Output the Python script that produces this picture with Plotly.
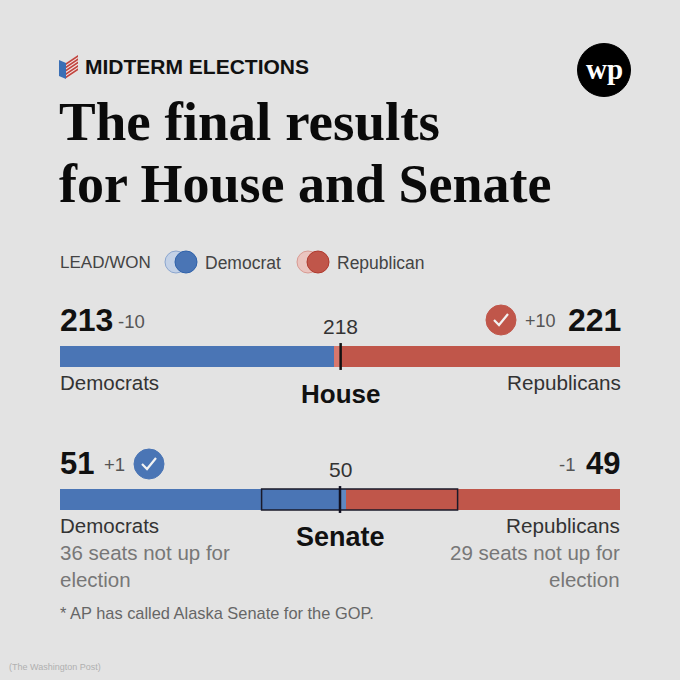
import plotly.graph_objects as go

# seats
house_total = 435
house_dem = 213
house_rep_won = 217
house_rep_lead = 5
house_rep = 221
house_majority = 218
house_dem_change = "-10"
house_rep_change = "+10"

senate_total = 100
senate_dem_won = 50
senate_dem_lead = 1
senate_dem = 51
senate_rep = 49
senate_majority = 50
senate_dem_not_up = 36
senate_rep_not_up = 29
senate_dem_change = "+1"
senate_rep_change = "-1"

BLUE = "#4a75b5"
LIGHT_BLUE = "#5f88c2"
RED = "#c0564a"
LIGHT_RED = "#d8776c"
BG = "#e3e3e3"
SANS = "Liberation Sans"
SERIF = "Liberation Serif"
W = 680
H = 680


def px(x):
    return x / W


def py(y):
    return 1 - y / H


def add_text(fig, x, y, text, size, color="#222222", anchor="left", bold=False, family=SANS):
    fig.add_annotation(
        x=px(x), y=py(y), xref="paper", yref="paper", text="<b>%s</b>" % text if bold else text,
        showarrow=False, xanchor=anchor, yanchor="middle", align=anchor,
        font=dict(size=size, color=color, family=family), borderpad=0, borderwidth=0,
    )


def add_circle(fig, cx, cy, r, fill, line=None, opacity=1):
    fig.add_shape(
        type="circle", xref="paper", yref="paper",
        x0=px(cx - r), x1=px(cx + r), y0=py(cy + r), y1=py(cy - r),
        fillcolor=fill, opacity=opacity,
        line=dict(color=line or fill, width=1),
    )


def add_path(fig, points, fill=None, line=None, width=1):
    path = "M " + " L ".join("%.5f,%.5f" % (px(a), py(b)) for a, b in points)
    if fill:
        path += " Z"
    fig.add_shape(
        type="path", xref="paper", yref="paper", path=path,
        fillcolor=fill or "rgba(0,0,0,0)", line=dict(color=line or "rgba(0,0,0,0)", width=width),
    )


def add_check(fig, cx, cy, r, fill):
    add_circle(fig, cx, cy, r, fill)
    add_path(fig, [(cx - 7, cy), (cx - 2, cy + 5), (cx + 7, cy - 6)], line="#f2f2f2", width=2.2)


def add_bar(fig, row, start, seats, color, xaxis, yaxis):
    fig.add_trace(go.Bar(y=[row], x=[seats], base=[start], orientation="h",
                         marker=dict(color=color, line=dict(width=0)), xaxis=xaxis, yaxis=yaxis))


fig = go.Figure()

# house bar
add_bar(fig, "House", 0, house_dem, BLUE, "x", "y")
add_bar(fig, "House", house_dem, house_rep_lead, LIGHT_RED, "x", "y")
add_bar(fig, "House", house_total - house_rep_won, house_rep_won, RED, "x", "y")
# senate bar
add_bar(fig, "Senate", 0, senate_dem_won, BLUE, "x2", "y2")
add_bar(fig, "Senate", senate_dem_won, senate_dem_lead, LIGHT_BLUE, "x2", "y2")
add_bar(fig, "Senate", senate_total - senate_rep, senate_rep, RED, "x2", "y2")

# majority marks and the seats that were up
fig.add_shape(type="line", xref="x", yref="y domain", x0=house_majority, x1=house_majority,
              y0=-0.14, y1=1.14, line=dict(color="#111111", width=2.5))
fig.add_shape(type="rect", xref="x2", yref="y2 domain", x0=senate_dem_not_up,
              x1=senate_total - senate_rep_not_up, y0=0, y1=1,
              line=dict(color="#1a1a2a", width=1.5), fillcolor="rgba(0,0,0,0)")
fig.add_shape(type="line", xref="x2", yref="y2 domain", x0=senate_majority, x1=senate_majority,
              y0=-0.14, y1=1.14, line=dict(color="#111122", width=2.5))

# header
add_text(fig, 85, 67, "MIDTERM ELECTIONS", 21, "#111111", bold=True)
add_text(fig, 59, 121, "The final results", 55, "#0a0a0a", bold=True, family=SERIF)
add_text(fig, 59, 184, "for House and Senate", 54, "#0a0a0a", bold=True, family=SERIF)

# flag icon
add_path(fig, [(59, 60), (66, 63), (66, 79), (59, 76)], fill="#3a6fb5")
add_path(fig, [(66, 63), (78, 55), (78, 71), (66, 79)], fill="#f2e6e4")
for i in range(5):
    off = i * 3.3
    add_path(fig, [(66, 63 + off), (78, 55 + off), (78, 57 + off), (66, 65 + off)], fill="#c0453f")

# logo
add_circle(fig, 604, 70, 26.5, "#000000")
add_text(fig, 604, 69, "wp", 29, "#ffffff", "center", True, SERIF)

# legend
add_text(fig, 60, 262, "LEAD/WON", 17, "#444444")
add_circle(fig, 176, 262, 11, "#c3d1e6", "#8ba6cf")
add_circle(fig, 186, 262, 11, BLUE, "#2f62ab")
add_text(fig, 205, 263, "Democrat", 17.5, "#444444")
add_circle(fig, 308, 262, 11, "#eac4bf", "#d99a92")
add_circle(fig, 318, 262, 11, RED, "#b0392d")
add_text(fig, 337, 263, "Republican", 17.5, "#444444")

# house labels
add_text(fig, 60, 320, "<b>%d</b>" % house_dem, 32, "#111111")
add_text(fig, 118, 321, house_dem_change, 18.5, "#555555")
add_text(fig, 340, 326, str(house_majority), 21, "#333333", "center")
add_check(fig, 501, 320, 15, RED)
add_text(fig, 525, 321, house_rep_change, 18, "#555555")
add_text(fig, 621, 320, "<b>%d</b>" % house_rep, 32, "#111111", "right")
add_text(fig, 60, 382, "Democrats", 20.5, "#333333")
add_text(fig, 621, 382, "Republicans", 20.7, "#333333", "right")
add_text(fig, 340, 394, "House", 26, "#111111", "center", True)

# senate labels
add_text(fig, 60, 463, "<b>%d</b>" % senate_dem, 31, "#111111")
add_text(fig, 104, 464, senate_dem_change, 18.5, "#555555")
add_check(fig, 149, 464, 15, BLUE)
add_text(fig, 340, 469, str(senate_majority), 21, "#333333", "center")
add_text(fig, 575, 464, senate_rep_change, 18.5, "#555555", "right")
add_text(fig, 620, 463, "<b>%d</b>" % senate_rep, 31, "#111111", "right")
add_text(fig, 60, 525, "Democrats", 20.5, "#333333")
add_text(fig, 620, 525, "Republicans", 20.7, "#333333", "right")
add_text(fig, 340, 537, "Senate", 27, "#111111", "center", True)
add_text(fig, 60, 552, "%d seats not up for" % senate_dem_not_up, 20.5, "#777777")
add_text(fig, 60, 579, "election", 20.5, "#777777")
add_text(fig, 620, 552, "%d seats not up for" % senate_rep_not_up, 20.5, "#777777", "right")
add_text(fig, 620, 579, "election", 20.5, "#777777", "right")

# footer
add_text(fig, 60, 613, "* AP has called Alaska Senate for the GOP.", 16.4, "#666666")
add_text(fig, 9, 667, "(The Washington Post)", 9, "#b0b0b0")

x_dom = [px(60), px(620)]
fig.update_layout(
    width=W, height=H, margin=dict(l=0, r=0, t=0, b=0),
    paper_bgcolor=BG, plot_bgcolor=BG, showlegend=False, barmode="overlay", bargap=0,
    xaxis=dict(domain=x_dom, range=[0, house_total], visible=False, fixedrange=True),
    yaxis=dict(domain=[py(367), py(346)], visible=False, fixedrange=True),
    xaxis2=dict(domain=x_dom, range=[0, senate_total], visible=False, fixedrange=True, anchor="y2"),
    yaxis2=dict(domain=[py(510), py(489)], visible=False, fixedrange=True, anchor="x2"),
)

fig.write_html("out.html", config=dict(displayModeBar=False),
               post_script="document.body.style.margin='0';document.body.style.background='%s';" % BG)
